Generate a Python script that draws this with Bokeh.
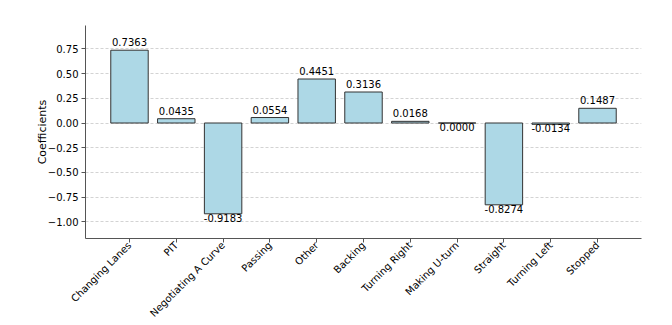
import math
from bokeh.plotting import figure
from bokeh.models import Range1d, FixedTicker
from bokeh.core.properties import value
from bokeh.embed import file_html
from bokeh.resources import INLINE

categories = ["Changing Lanes", "PIT", "Negotiating A Curve", "Passing", "Other",
              "Backing", "Turning Right", "Making U-turn", "Straight", "Turning Left", "Stopped"]
coefficients = [0.7363, 0.0435, -0.9183, 0.0554, 0.4451, 0.3136, 0.0168, 0.0000,
                -0.8274, -0.0134, 0.1487]
y_ticks = [-1.00, -0.75, -0.50, -0.25, 0.00, 0.25, 0.50, 0.75]
y_tick_labels = ["\u22121.00", "\u22120.75", "\u22120.50", "\u22120.25", "0.00", "0.25", "0.50", "0.75"]

FONT = "DejaVu Sans"
xs = list(range(len(categories)))
ymin = min(coefficients) - 0.25
ymax = max(coefficients) + 0.25

p = figure(width=672, height=325, output_backend="svg", toolbar_location=None,
           x_range=Range1d(-0.94, len(categories) - 1 + 0.94),
           y_range=Range1d(ymin, ymax),
           min_border_left=85, min_border_top=25, min_border_right=31, min_border_bottom=86)
p.outline_line_color = None
p.background_fill_color = "white"

p.vbar(x=xs, top=coefficients, bottom=0, width=0.8, fill_color="#ADD8E6",
       line_color="#333333", line_width=1)

pos_x = [x for x, v in zip(xs, coefficients) if v > 0]
pos_v = [v for v in coefficients if v > 0]
neg_x = [x for x, v in zip(xs, coefficients) if v <= 0]
neg_v = [v for v in coefficients if v <= 0]
p.text(x=pos_x, y=pos_v, text=["%.4f" % v for v in pos_v], text_align="center",
       text_baseline="bottom", y_offset=-4, text_font=value(FONT), text_font_size="10px",
       text_color="black")
p.text(x=neg_x, y=neg_v, text=["%.4f" % v for v in neg_v], text_align="center",
       text_baseline="top", y_offset=0, text_font=value(FONT), text_font_size="10px",
       text_color="black")

# axes
p.xaxis.ticker = FixedTicker(ticks=xs)
p.xaxis.major_label_overrides = {i: c for i, c in enumerate(categories)}
p.xaxis.major_label_orientation = math.pi / 4
p.yaxis.ticker = FixedTicker(ticks=y_ticks)
p.yaxis.major_label_overrides = {t: l for t, l in zip(y_ticks, y_tick_labels)}
p.yaxis.axis_label = "Coefficients"
for ax in (p.xaxis[0], p.yaxis[0]):
    ax.axis_line_color = "#555555"
    ax.axis_line_width = 1
    ax.major_tick_line_color = "#555555"
    ax.major_tick_out = 4
    ax.major_tick_in = 0
    ax.minor_tick_line_color = None
    ax.major_label_text_font = FONT
    ax.major_label_text_font_size = "10px"
    ax.major_label_text_color = "black"
p.yaxis.major_label_standoff = 3
p.xaxis.major_label_standoff = 1
p.yaxis.axis_label_text_font = FONT
p.yaxis.axis_label_text_font_size = "11px"
p.yaxis.axis_label_text_font_style = "normal"
p.yaxis.axis_label_text_color = "black"
p.yaxis.axis_label_standoff = -4

p.xgrid.grid_line_color = None
p.ygrid.ticker = FixedTicker(ticks=y_ticks)
p.ygrid.grid_line_color = "#b0b0b0"
p.ygrid.grid_line_alpha = 0.7
p.ygrid.grid_line_dash = "3 2"
p.ygrid.grid_line_width = 0.8

open("out.html", "w").write(file_html(p, INLINE))
